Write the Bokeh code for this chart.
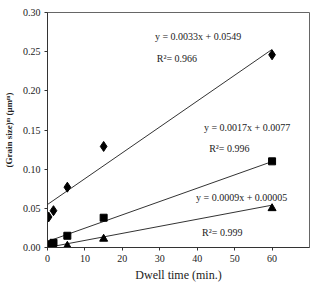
from bokeh.plotting import figure
from bokeh.models import Range1d, FixedTicker, Label
from bokeh.embed import file_html
from bokeh.resources import INLINE

# Dwell time (min.) and measured (grain size)^m for three conditions
dwell = [0.3, 1.6, 5.3, 15, 60]
diamond_vals = [0.039, 0.047, 0.077, 0.129, 0.246]
square_vals = [0.004, 0.006, 0.015, 0.038, 0.110]
triangle_vals = [0.001, 0.001, 0.002, 0.011, 0.050]

# Linear fits (slope, intercept) and their R² values
fits = [(0.0033, 0.0549), (0.0017, 0.0077), (0.0009, 0.00005)]
fit_labels = ["y = 0.0033x + 0.0549", "y = 0.0017x + 0.0077", "y = 0.0009x + 0.00005"]
r2_labels = ["R²= 0.966", "R²= 0.996", "R²= 0.999"]
fit_x = [0, 60]

x_ticks = [0, 10, 20, 30, 40, 50, 60]
y_ticks = [0.0, 0.05, 0.10, 0.15, 0.20, 0.25, 0.30]

FONT = "Liberation Serif"

p = figure(width=314, height=286, output_backend="svg", toolbar_location=None,
           x_range=Range1d(0, 70), y_range=Range1d(0, 0.30),
           min_border_left=43, min_border_right=5, min_border_top=12,
           min_border_bottom=39)
p.grid.visible = False
p.outline_line_color = "#666666"
p.outline_line_width = 1
p.background_fill_color = "white"
p.border_fill_color = "white"

for ax in (p.xaxis[0], p.yaxis[0]):
    ax.axis_line_color = "#333333"
    ax.major_tick_line_color = "#333333"
    ax.minor_tick_line_color = None
    ax.major_tick_in = 0
    ax.major_tick_out = 3
    ax.major_label_text_font = FONT
    ax.major_label_text_font_size = "10px"
    ax.major_label_text_color = "#222222"
    ax.axis_label_text_font = FONT
    ax.axis_label_text_color = "#222222"

p.xaxis.ticker = FixedTicker(ticks=x_ticks)
p.yaxis.ticker = FixedTicker(ticks=y_ticks)
p.xaxis.major_label_overrides = {t: str(t) for t in x_ticks}
p.yaxis.major_label_overrides = {t: f"{t:.2f}" for t in y_ticks}
p.xaxis.major_label_standoff = 4
p.yaxis.major_label_standoff = 4
p.xaxis.axis_label = "Dwell time (min.)"
p.xaxis.axis_label_text_font_size = "12px"
p.xaxis.axis_label_text_font_style = "normal"
p.xaxis.axis_label_standoff = 3
p.yaxis.axis_label = "(Grain size)ᵐ (μmᵐ)"
p.yaxis.axis_label_text_font_size = "9px"
p.yaxis.axis_label_text_font_style = "bold"
p.yaxis.axis_label_standoff = 6

# Trend lines
for slope, intercept in fits:
    p.line(fit_x, [slope * x + intercept for x in fit_x],
           line_color="#333333", line_width=1)

# Data points
p.scatter(dwell, diamond_vals, marker="diamond", size=10, color="black")
p.scatter(dwell, square_vals, marker="square", size=7, color="black")
p.scatter(dwell, triangle_vals, marker="triangle", size=8, color="black")

# Fit equations and R² annotations
eq_pos = [(28.7, 0.269), (41.8, 0.153), (39.7, 0.064)]
r2_pos = [(29.2, 0.241), (43.2, 0.126), (41.3, 0.019)]
for txt, (x, y) in zip(fit_labels, eq_pos):
    p.add_layout(Label(x=x, y=y, text=txt, text_font=FONT, text_font_size="10px",
                       text_color="#222222", text_baseline="middle"))
for txt, (x, y) in zip(r2_labels, r2_pos):
    p.add_layout(Label(x=x, y=y, text=txt, text_font=FONT, text_font_size="10px",
                       text_color="#222222", text_baseline="middle"))

open("out.html", "w").write(file_html(p, INLINE))
